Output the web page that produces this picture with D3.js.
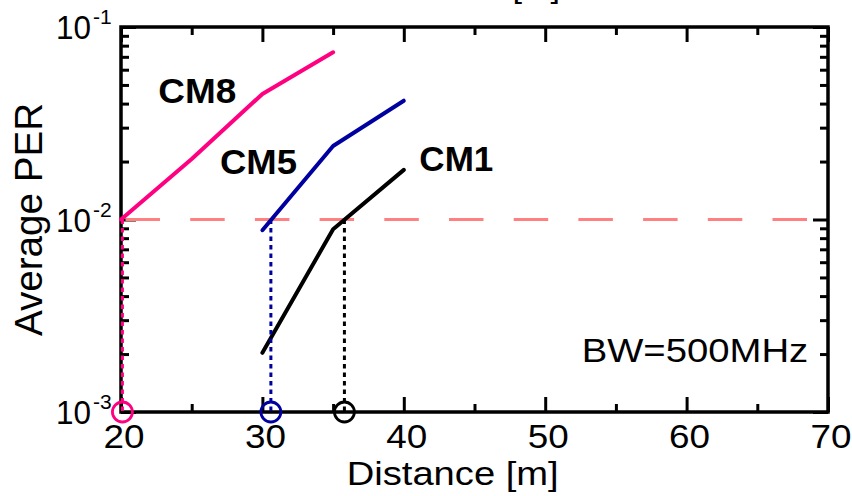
<!DOCTYPE html>
<html>
<head>
<meta charset="utf-8">
<script src="https://cdn.jsdelivr.net/npm/d3@7"></script>
<style>
  body { margin: 0; background: #fff; }
  text { font-family: "Liberation Sans", Arial, sans-serif; fill: #000; }
</style>
</head>
<body>
<div id="chart"></div>
<script>
// Data
let cm8Dist = [20, 25, 30, 35];
let cm8Per = [0.0100, 0.0206, 0.0449, 0.0739];
let cm5Dist = [30, 35, 40];
let cm5Per = [0.0088, 0.0241, 0.0414];
let cm1Dist = [30, 35, 40];
let cm1Per = [0.00203, 0.0089, 0.0181];

// Distance where each curve reaches the PER target
let crossNames = ["CM8", "CM5", "CM1"];
let crossDist = [20.1, 30.6, 35.8];
let targetPer = 0.01;

// Ticks
let xMajor = [20, 30, 40, 50, 60, 70];
let xMinor = [25, 35, 45, 55, 65];
let yMajor = [1e-3, 1e-2, 1e-1];
let yExp = ["-3", "-2", "-1"];

let colors = { CM8: "#ff0080", CM5: "#0000a0", CM1: "#000000" };

// Svg size and plot box
let svgWidth = 852;
let svgHeight = 496;
let box = { left: 121, right: 828, top: 27, bottom: 412 };

let svg = d3.select("#chart")
  .append("svg")
  .attr("width", svgWidth)
  .attr("height", svgHeight);

svg.append("rect")
  .attr("width", svgWidth)
  .attr("height", svgHeight)
  .attr("fill", "#fff");

// Scales
let x = d3.scaleLinear().domain([20, 70]).range([box.left, box.right]);
let y = d3.scaleLog().domain([1e-3, 1e-1]).range([box.bottom, box.top]);

let yMinor = y.ticks().filter(v => !yMajor.some(m => Math.abs(m - v) < v * 1e-6));

// Tick marks, all pointing inward
function tickGroup(axis, tx, ty) {
  let g = svg.append("g")
    .attr("transform", `translate(${tx}, ${ty})`)
    .call(axis);
  g.select(".domain").remove();
  g.selectAll("line").attr("stroke", "#000").attr("stroke-width", 3);
  return g;
}

tickGroup(d3.axisBottom(x).tickValues(xMajor).tickSize(-15).tickFormat(""), 0, box.bottom);
tickGroup(d3.axisBottom(x).tickValues(xMinor).tickSize(-8).tickFormat(""), 0, box.bottom);
tickGroup(d3.axisTop(x).tickValues(xMajor).tickSize(-15).tickFormat(""), 0, box.top);
tickGroup(d3.axisTop(x).tickValues(xMinor).tickSize(-8).tickFormat(""), 0, box.top);
tickGroup(d3.axisLeft(y).tickValues(yMajor).tickSize(-15).tickFormat(""), box.left, 0);
tickGroup(d3.axisLeft(y).tickValues(yMinor).tickSize(-8).tickFormat(""), box.left, 0);
tickGroup(d3.axisRight(y).tickValues(yMajor).tickSize(-15).tickFormat(""), box.right, 0);
tickGroup(d3.axisRight(y).tickValues(yMinor).tickSize(-8).tickFormat(""), box.right, 0);

// Frame
svg.append("rect")
  .attr("x", box.left)
  .attr("y", box.top)
  .attr("width", box.right - box.left)
  .attr("height", box.bottom - box.top)
  .attr("fill", "none")
  .attr("stroke", "#000")
  .attr("stroke-width", 3.5);

// Target PER line
svg.append("line")
  .attr("x1", x(20))
  .attr("x2", x(70))
  .attr("y1", y(targetPer))
  .attr("y2", y(targetPer))
  .attr("stroke", "#ff8080")
  .attr("stroke-width", 3)
  .attr("stroke-dasharray", "34.5,30.2")
  .attr("stroke-dashoffset", 60.2);

// Curves
let line = d3.line()
  .x(d => x(d[0]))
  .y(d => y(d[1]));

let series = [
  { name: "CM8", pts: d3.zip(cm8Dist, cm8Per) },
  { name: "CM5", pts: d3.zip(cm5Dist, cm5Per) },
  { name: "CM1", pts: d3.zip(cm1Dist, cm1Per) }
];

svg.selectAll(".curve")
  .data(series)
  .enter()
  .append("path")
  .attr("class", "curve")
  .attr("d", d => line(d.pts))
  .attr("fill", "none")
  .attr("stroke", d => colors[d.name])
  .attr("stroke-width", 4)
  .attr("stroke-linecap", "round")
  .attr("stroke-linejoin", "round");

// Dotted drop lines and circles at the crossing
svg.selectAll(".drop")
  .data(crossDist)
  .enter()
  .append("line")
  .attr("class", "drop")
  .attr("x1", d => x(d))
  .attr("x2", d => x(d))
  .attr("y1", y(targetPer))
  .attr("y2", y(1e-3))
  .attr("stroke", (d, i) => colors[crossNames[i]])
  .attr("stroke-width", 3)
  .attr("stroke-dasharray", "4.5,4");

svg.selectAll(".mark")
  .data(crossDist)
  .enter()
  .append("circle")
  .attr("class", "mark")
  .attr("cx", d => x(d))
  .attr("cy", y(1e-3))
  .attr("r", 10)
  .attr("fill", "none")
  .attr("stroke", (d, i) => colors[crossNames[i]])
  .attr("stroke-width", 2.8);

// X tick labels
svg.selectAll(".xlab")
  .data(xMajor)
  .enter()
  .append("text")
  .attr("class", "xlab")
  .attr("x", d => x(d) + 3 - 20.5)
  .attr("y", 448)
  .attr("font-size", 33)
  .attr("textLength", 41)
  .attr("lengthAdjust", "spacingAndGlyphs")
  .text(d => d);

// Y tick labels 10^n
yMajor.forEach((v, i) => {
  svg.append("text")
    .attr("x", 56)
    .attr("y", y(v) + 12)
    .attr("font-size", 33)
    .attr("textLength", 35)
    .attr("lengthAdjust", "spacingAndGlyphs")
    .text("10");
  svg.append("text")
    .attr("x", 93)
    .attr("y", y(v) - 3)
    .attr("font-size", 21)
    .text(yExp[i]);
});

// Axis titles
svg.append("text")
  .attr("x", 346.7)
  .attr("y", 485)
  .attr("font-size", 33)
  .attr("textLength", 212)
  .attr("lengthAdjust", "spacingAndGlyphs")
  .text("Distance [m]");

// title of the panel above, cut off at the top edge as in the source figure
svg.append("text")
  .attr("x", 370)
  .attr("y", -3)
  .attr("font-size", 33)
  .attr("textLength", 190)
  .attr("lengthAdjust", "spacingAndGlyphs")
  .text("Distance [m]");

svg.append("text")
  .attr("transform", "translate(42, 336) rotate(-90)")
  .attr("font-size", 39)
  .attr("textLength", 233)
  .attr("lengthAdjust", "spacingAndGlyphs")
  .text("Average PER");

// Curve labels and note, placed in data units
let labels = [
  { text: "CM8", dist: 22.64, per: 0.0403, len: 78, bold: true },
  { text: "CM5", dist: 27.0, per: 0.01723, len: 77, bold: true },
  { text: "CM1", dist: 41.1, per: 0.01786, len: 74, bold: true },
  { text: "BW=500MHz", dist: 52.58, per: 0.001812, len: 226.6, bold: false }
];

svg.selectAll(".note")
  .data(labels)
  .enter()
  .append("text")
  .attr("class", "note")
  .attr("x", d => x(d.dist))
  .attr("y", d => y(d.per))
  .attr("font-size", d => d.bold ? 35 : 33.5)
  .attr("font-weight", d => d.bold ? "bold" : "normal")
  .attr("textLength", d => d.len)
  .attr("lengthAdjust", "spacingAndGlyphs")
  .text(d => d.text);
</script>
</body>
</html>
